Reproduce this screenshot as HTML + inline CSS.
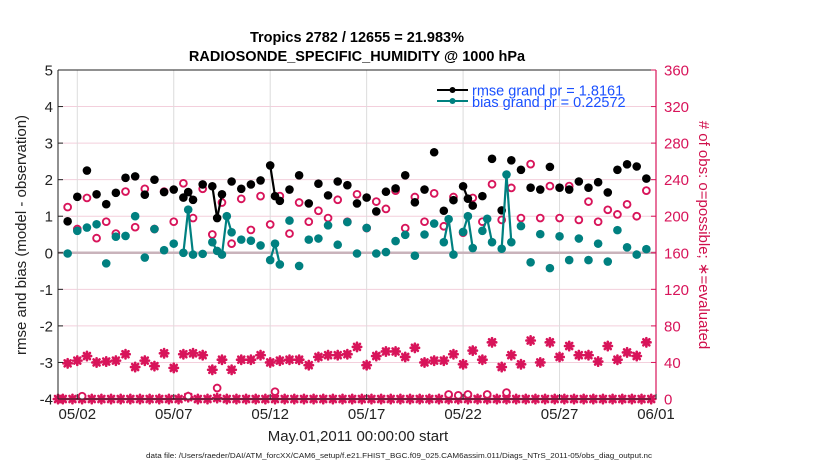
<!DOCTYPE html>
<html><head><meta charset="utf-8"><style>
html,body{margin:0;padding:0;background:#fff;}
svg{display:block;font-family:"Liberation Sans",Arial,sans-serif;}
</style></head><body>
<svg id="chart" width="830" height="470" viewBox="0 0 830 470" xmlns="http://www.w3.org/2000/svg">
<rect width="830" height="470" fill="#fff"/>
<g id="grid"></g>
<g id="marks"></g>
<g id="axes"></g>
<text x="357" y="42" text-anchor="middle" font-size="14.5" font-weight="bold">Tropics 2782 / 12655 = 21.983%</text>
<text x="357" y="61" text-anchor="middle" font-size="14.5" font-weight="bold">RADIOSONDE_SPECIFIC_HUMIDITY @ 1000 hPa</text>
<text transform="translate(26,235) rotate(-90)" text-anchor="middle" font-size="15" fill="#222">rmse and bias (model - observation)</text>
<text transform="translate(699,235) rotate(90)" text-anchor="middle" font-size="15" fill="#d0104c"># of obs: o=possible; ∗=evaluated</text>
<text x="358" y="441" text-anchor="middle" font-size="15" fill="#222">May.01,2011 00:00:00 start</text>
<text x="399" y="458" text-anchor="middle" font-size="7" fill="#222" textLength="506" lengthAdjust="spacingAndGlyphs">data file: /Users/raeder/DAI/ATM_forcXX/CAM6_setup/f.e21.FHIST_BGC.f09_025.CAM6assim.011/Diags_NTrS_2011-05/obs_diag_output.nc</text>
<g>
<line x1="437" y1="90" x2="468" y2="90" stroke="#000" stroke-width="2"/>
<circle cx="452.5" cy="90" r="3" fill="#000"/>
<text x="472" y="95.5" font-size="14.5" fill="#1a50ff">rmse grand pr = 1.8161</text>
<line x1="437" y1="101" x2="468" y2="101" stroke="#008080" stroke-width="2"/>
<circle cx="452.5" cy="101" r="3" fill="#008080"/>
<text x="472" y="107" font-size="14.5" fill="#1a50ff">bias grand pr = 0.22572</text>
</g>
</svg>
<script>
const xTickLabels = ["05/02","05/07","05/12","05/17","05/22","05/27","06/01"];
const xTickDays = [1,6,11,16,21,26,31];
const yLeftTicks = [-4,-3,-2,-1,0,1,2,3,4,5];
const yRightTicks = [0,40,80,120,160,200,240,280,320,360];
const rmseT = [0.5,1,1.5,2,2.5,3,3.5,4,4.5,5,5.5,6,6.5,6.75,7,7.5,8,8.25,8.5,9,9.5,10,10.5,11,11.25,11.5,12,12.5,13,13.5,14,14.5,15,15.5,16,16.5,17,17.5,18,18.5,19,19.5,20,20.5,21,21.25,21.5,22,22.5,23,23.5,24,24.5,25,25.5,26,26.5,27,27.5,28,28.5,29,29.5,30,30.5];
const rmseV = [0.86,1.53,2.25,1.6,1.33,1.64,2.05,2.09,1.59,2.0,1.66,1.73,1.51,1.66,1.45,1.87,1.82,0.95,1.6,1.95,1.75,1.87,1.98,2.39,1.55,1.42,1.73,2.12,1.35,1.89,1.57,1.95,1.85,1.35,1.51,1.13,1.67,1.76,2.12,1.38,1.73,2.75,1.15,1.44,1.82,1.48,1.29,1.55,2.57,1.16,2.53,2.27,1.78,1.73,2.35,1.78,1.73,1.95,1.78,1.93,1.65,2.27,2.42,2.36,2.03];
const biasT = [0.5,1,1.5,2,2.5,3,3.5,4,4.5,5,5.5,6,6.5,6.75,7,7.5,8,8.25,8.5,8.75,9,9.5,10,10.5,11,11.25,11.5,12,12.5,13,13.5,14,14.5,15,15.5,16,16.5,17,17.5,18,18.5,19,19.5,20,20.25,20.5,21,21.25,21.5,22,22.25,22.5,23,23.25,23.5,24,24.5,25,25.5,26,26.5,27,27.5,28,28.5,29,29.5,30,30.5];
const biasV = [-0.02,0.6,0.69,0.78,-0.29,0.44,0.46,1.0,-0.13,0.65,0.07,0.25,0,1.18,-0.05,-0.03,0.29,0.05,-0.05,1.0,0.56,0.36,0.33,0.2,-0.2,0.25,-0.32,0.88,-0.36,0.36,0.39,0.75,0.22,0.84,-0.02,0.68,-0.02,0.02,0.32,0.49,-0.08,0.5,0.8,0.29,0.92,-0.05,0.57,1.0,0.13,0.6,0.93,0.29,0.11,2.14,0.29,0.73,-0.26,0.51,-0.42,0.45,-0.2,0.39,-0.2,0.25,-0.24,0.62,0.15,-0.05,0.1];
const obsT = [0.5,1,1.5,2,2.5,3,3.5,4,4.5,5,5.5,6,6.5,7,7.5,8,8.5,9,9.5,10,10.5,11,11.5,12,12.5,13,13.5,14,14.5,15,15.5,16,16.5,17,17.5,18,18.5,19,19.5,20,20.5,21,21.5,22,22.5,23,23.5,24,24.5,25,25.5,26,26.5,27,27.5,28,28.5,29,29.5,30,30.5];
const possibleN = [210,186,220,176,194,181,227,188,230,186,227,194,236,198,230,180,215,170,219,185,222,191,222,181,215,194,206,198,218,194,224,187,216,208,228,187,221,194,225,189,221,182,220,194,235,196,231,198,257,198,233,198,233,196,216,194,207,202,213,200,228];
const evaluatedN = [39,42,47,40,41,42,49,35,42,36,50,34,49,50,48,32,43,32,43,43,48,40,42,43,43,37,46,48,48,49,57,37,47,52,52,46,56,40,42,42,49,38,53,43,62,35,48,38,64,40,62,46,58,48,48,41,58,43,51,47,62];
const sparseT = [0,0.25,0.75,1.25,1.75,2.25,2.75,3.25,3.75,4.25,4.75,5.25,5.75,6.25,6.75,7.25,7.75,8.25,8.75,9.25,9.75,10.25,10.75,11.25,11.75,12.25,12.75,13.25,13.75,14.25,14.75,15.25,15.75,16.25,16.75,17.25,17.75,18.25,18.75,19.25,19.75,20.25,20.75,21.25,21.75,22.25,22.75,23.25,23.75,24.25,24.75,25.25,25.75,26.25,26.75,27.25,27.75,28.25,28.75,29.25,29.75,30.25,30.75];
const sparsePossibleN = [0,0,0,3,0,0,0,0,0,0,0,0,0,0,3,0,0,12,0,0,0,0,0,8,0,0,0,0,0,0,0,0,0,0,0,0,0,0,0,0,0,5,4,5,0,5,0,7,0,0,0,0,0,0,0,0,0,0,0,0,0,0,0];
const sparseEvaluatedN = [0,0,0,0,0,0,0,0,0,0,0,0,0,0,2,0,0,1,0,0,0,0,0,0,0,0,0,0,0,0,0,0,0,0,0,0,0,0,0,0,0,0,0,0,0,0,0,0,0,0,0,0,0,0,0,0,0,0,0,0,0,0,0];

const NS="http://www.w3.org/2000/svg";
const X0=58, X1=656, Y0=70, Y1=399;
const DAYS=31;
function xS(t){return X0+(X1-X0)*t/DAYS;}
function yL(v){return Y1-(Y1-Y0)*(v+4)/9;}
function yR(c){return Y1-(Y1-Y0)*c/360;}
const PINK="#d8145a", TEAL="#008080";
function mk(parent,tag,attrs){const e=document.createElementNS(NS,tag);for(const k in attrs)e.setAttribute(k,attrs[k]);parent.appendChild(e);return e;}
const gridG=document.getElementById('grid'), marksG=document.getElementById('marks'), axesG=document.getElementById('axes');

yLeftTicks.forEach(v=>{
  if(v===0||v===5) return;
  const l=mk(gridG,'line',{x1:X0,x2:X1,y1:yL(v),y2:yL(v),stroke:'#f3cfdc','stroke-width':1});
  
  
});
xTickDays.forEach(d=>{
  const l=mk(gridG,'line',{x1:xS(d),x2:xS(d),y1:Y0,y2:Y1,stroke:'#dcdcdc','stroke-width':1});
  
  
});
const zl=mk(gridG,'line',{x1:X0,x2:X1,y1:yL(0),y2:yL(0),stroke:'#c9b3bb','stroke-width':2.5});



function star(cx,cy,name){
  const g=mk(marksG,'g',{stroke:PINK,'stroke-width':2.6,'stroke-linecap':'round'});
  
  
  const r=4.2;
  mk(g,'line',{x1:cx-r,x2:cx+r,y1:cy,y2:cy});
  mk(g,'line',{x1:cx,x2:cx,y1:cy-r,y2:cy+r});
  const d=r*0.72;
  mk(g,'line',{x1:cx-d,x2:cx+d,y1:cy-d,y2:cy+d});
  mk(g,'line',{x1:cx-d,x2:cx+d,y1:cy+d,y2:cy-d});
}
function ring(cx,cy,name){
  const c=mk(marksG,'circle',{cx:cx,cy:cy,r:3.4,fill:'#fff',stroke:PINK,'stroke-width':1.9});
  
  
}
function series(T,V,color,name){
  for(let i=1;i<T.length;i++){
    if(T[i]-T[i-1]<=0.26){
      const l=mk(marksG,'line',{x1:xS(T[i-1]),y1:yL(V[i-1]),x2:xS(T[i]),y2:yL(V[i]),stroke:color,'stroke-width':2.2});
      
      
    }
  }
  T.forEach((t,i)=>{
    const c=mk(marksG,'circle',{cx:xS(t),cy:yL(V[i]),r:4.3,fill:color});
    
    
  });
}
sparseT.forEach((t,i)=>{ star(xS(t),yR(sparseEvaluatedN[i]),'evaluated-count-star'); });
sparseT.forEach((t,i)=>{ if(sparsePossibleN[i]>0) ring(xS(t),yR(sparsePossibleN[i]),'possible-count-circle'); });
obsT.forEach((t,i)=>{ star(xS(t),yR(evaluatedN[i]),'evaluated-count-star'); });
obsT.forEach((t,i)=>{ ring(xS(t),yR(possibleN[i]),'possible-count-circle'); });
series(rmseT,rmseV,'#000','rmse');
series(biasT,biasV,TEAL,'bias');

const topFrame=mk(axesG,'line',{x1:X0,x2:X1,y1:Y0,y2:Y0,stroke:'#222','stroke-width':1});


const leftAxis=mk(axesG,'line',{x1:X0,x2:X0,y1:Y0,y2:Y1,stroke:'#222','stroke-width':1});


const bottomAxis=mk(axesG,'line',{x1:X0,x2:X1,y1:Y1,y2:Y1,stroke:'#222','stroke-width':1});


const rightAxis=mk(axesG,'line',{x1:X1,x2:X1,y1:Y0,y2:Y1,stroke:PINK,'stroke-width':1.2});


yLeftTicks.forEach(v=>{
  mk(axesG,'line',{x1:X0,x2:X0+5,y1:yL(v),y2:yL(v),stroke:'#222'});
  const t=mk(axesG,'text',{x:X0-5,y:yL(v)+5.5,'text-anchor':'end','font-size':15,fill:'#222'});
  t.textContent=v;
  
  
});
yRightTicks.forEach(c=>{
  mk(axesG,'line',{x1:X1,x2:X1-5,y1:yR(c),y2:yR(c),stroke:PINK});
  const t=mk(axesG,'text',{x:X1+8,y:yR(c)+5.5,'font-size':15,fill:PINK});
  t.textContent=c;
  
  
});
xTickDays.forEach((d,i)=>{
  mk(axesG,'line',{x1:xS(d),x2:xS(d),y1:Y1,y2:Y1-5,stroke:'#222'});
  const t=mk(axesG,'text',{x:xS(d),y:419,'text-anchor':'middle','font-size':15,fill:'#222'});
  t.textContent=xTickLabels[i];
  
  
});
</script>
</body></html>
